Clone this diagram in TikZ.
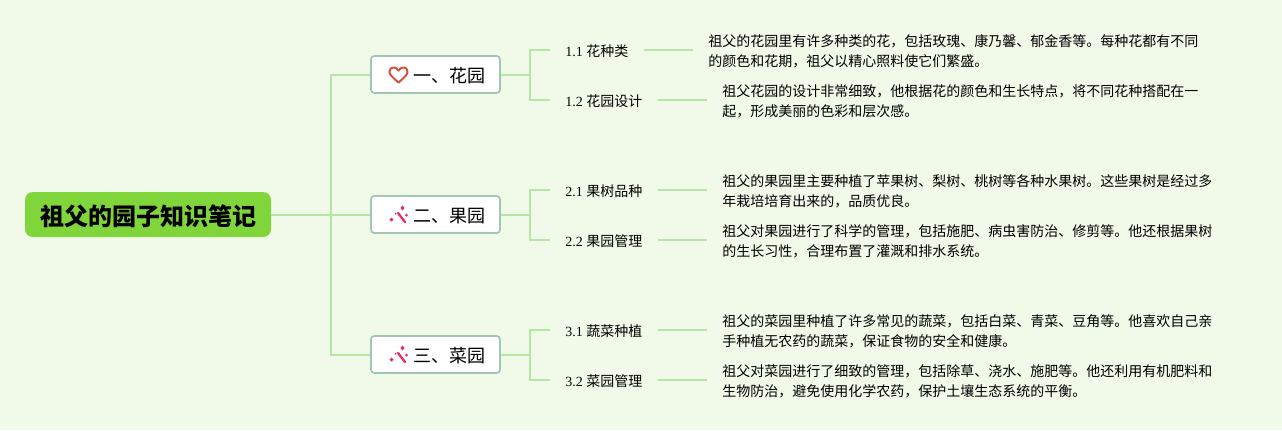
\documentclass[tikz,border=0pt]{standalone}
\usepackage{xcolor}
\usepackage{fontspec}
\setmainfont{Liberation Serif}
\newfontfamily\cjk{Noto Sans CJK SC}
\usepackage{tikz}
\usetikzlibrary{positioning}
\definecolor{gbg}{HTML}{F1FAE9}
\definecolor{groot}{HTML}{80D53B}
\definecolor{glink}{HTML}{B6E6A6}
\definecolor{gedge}{HTML}{A2C6B4}
\definecolor{gheart}{HTML}{D8503F}
\definecolor{gwand}{HTML}{E72A70}
\newcommand{\wandmark}[2]{%
  \draw[gwand, line width=1.7pt, line cap=round] (#1+8,#2-2) -- (#1+15,#2+7);
  \fill[gwand] (#1+1.5,#2+2.5) -- (#1+3.5,#2+4.5) -- (#1+1.5,#2+6.5) -- (#1-0.5,#2+4.5) -- cycle;
  \fill[gwand] (#1+12.5,#2-9.5) -- (#1+14.5,#2-7) -- (#1+12.5,#2-4.5) -- (#1+10.5,#2-7) -- cycle;
  \fill[gwand] (#1+16.5,#2-1.5) -- (#1+18,#2) -- (#1+16.5,#2+1.5) -- (#1+15,#2) -- cycle;
  \fill[gwand] (#1+5.5,#2-2.5) -- (#1+6.5,#2-1.5) -- (#1+5.5,#2-0.5) -- (#1+4.5,#2-1.5) -- cycle;
}
\begin{document}
\begin{tikzpicture}[x=0.75pt, y=-0.75pt,
  rootbox/.style={fill=groot, rounded corners=6pt, minimum width=184.5pt, minimum height=33.75pt, inner sep=0pt, text height=16pt, text depth=0pt, font=\fontsize{18}{22}\cjk\bfseries},
  branchbox/.style={fill=white, draw=gedge, line width=1.3pt, rounded corners=2.5pt, minimum width=96.75pt, minimum height=27.75pt, inner sep=0pt, text height=11.8pt, text depth=0pt, font=\fontsize{13.5}{16}\cjk},
  subnode/.style={anchor=west, inner ysep=2pt, inner xsep=11.25pt, font=\fontsize{10.5}{15}\selectfont},
  textnode/.style={anchor=west, align=left, inner ysep=2pt, inner xsep=11.25pt, font=\fontsize{10.5}{15}\cjk},
  link/.style={draw=glink, line width=1.5pt},
  up/.style={yshift=1.5pt}]
\fill[gbg] (0,0) rectangle (1282,430);

\node[rootbox] (root) at (148,214.5) {\hspace*{1.5pt}祖父的园子知识笔记};
\node[branchbox] (flower) at (435.5,74.5) {\hspace*{21.5pt}一、花园};
\node[branchbox] (fruit) at (435.5,214.5) {\hspace*{21.5pt}二、果园};
\node[branchbox] (veg) at (435.5,354.5) {\hspace*{21.5pt}三、菜园};

\node[subnode] (flowerkind) at (550,51.5) {1.1 {\cjk 花种类}};
\node[subnode] (flowerplan) at (550,101.5) {1.2 {\cjk 花园设计}};
\node[subnode] (fruitkind) at (550,191.5) {2.1 {\cjk 果树品种}};
\node[subnode] (fruitcare) at (550,241.5) {2.2 {\cjk 果园管理}};
\node[subnode] (vegkind) at (550,331.5) {3.1 {\cjk 蔬菜种植}};
\node[subnode] (vegcare) at (550,381.5) {3.2 {\cjk 菜园管理}};

\node[textnode] (flowerkindtext) at (693,51.5) {祖父的花园里有许多种类的花，包括玫瑰、康乃馨、郁金香等。每种花都有不同\\的颜色和花期，祖父以精心照料使它们繁盛。};
\node[textnode] (flowerplantext) at (707,101.5) {祖父花园的设计非常细致，他根据花的颜色和生长特点，将不同花种搭配在一\\起，形成美丽的色彩和层次感。};
\node[textnode] (fruitkindtext) at (707,191.5) {祖父的果园里主要种植了苹果树、梨树、桃树等各种水果树。这些果树是经过多\\年栽培培育出来的，品质优良。};
\node[textnode] (fruitcaretext) at (707,241.5) {祖父对果园进行了科学的管理，包括施肥、病虫害防治、修剪等。他还根据果树\\的生长习性，合理布置了灌溉和排水系统。};
\node[textnode] (vegkindtext) at (707,331.5) {祖父的菜园里种植了许多常见的蔬菜，包括白菜、青菜、豆角等。他喜欢自己亲\\手种植无农药的蔬菜，保证食物的安全和健康。};
\node[textnode] (vegcaretext) at (707,381.5) {祖父对菜园进行了细致的管理，包括除草、浇水、施肥等。他还利用有机肥料和\\生物防治，避免使用化学农药，保护土壤生态系统的平衡。};

\coordinate (trunk) at (331,214.5);
\coordinate (flowerfork) at (530,74.5);
\coordinate (fruitfork) at (530,214.5);
\coordinate (vegfork) at (530,354.5);

\draw[link] (root.east) -- (fruit.west);
\draw[link] (trunk) |- (flower.west);
\draw[link] (trunk) |- (veg.west);
\draw[link] (flower.east) -- (flowerfork);
\draw[link] (flowerfork) |- ([up]flowerkind.west);
\draw[link] (flowerfork) |- ([up]flowerplan.west);
\draw[link] (fruit.east) -- (fruitfork);
\draw[link] (fruitfork) |- ([up]fruitkind.west);
\draw[link] (fruitfork) |- ([up]fruitcare.west);
\draw[link] (veg.east) -- (vegfork);
\draw[link] (vegfork) |- ([up]vegkind.west);
\draw[link] (vegfork) |- ([up]vegcare.west);
\draw[link] ([up]flowerkind.east) -- ([up]flowerkindtext.west);
\draw[link] ([up]flowerplan.east) -- ([up]flowerplantext.west);
\draw[link] ([up]fruitkind.east) -- ([up]fruitkindtext.west);
\draw[link] ([up]fruitcare.east) -- ([up]fruitcaretext.west);
\draw[link] ([up]vegkind.east) -- ([up]vegkindtext.west);
\draw[link] ([up]vegcare.east) -- ([up]vegcaretext.west);

\draw[gheart, line width=1.5pt, line join=round] (398.5,82.5) .. controls (392,77) and (389.5,74.5) .. (389.5,71.5) .. controls (389.5,68.5) and (391.5,67.5) .. (393.5,67.5) .. controls (395.5,67.5) and (397.5,68.5) .. (398.5,70.5) .. controls (399.5,68.5) and (401.5,67.5) .. (403.5,67.5) .. controls (405.5,67.5) and (407.5,68.5) .. (407.5,71.5) .. controls (407.5,74.5) and (405,77) .. (398.5,82.5) -- cycle;
\wandmark{390}{215}
\wandmark{390}{355}
\end{tikzpicture}
\end{document}
